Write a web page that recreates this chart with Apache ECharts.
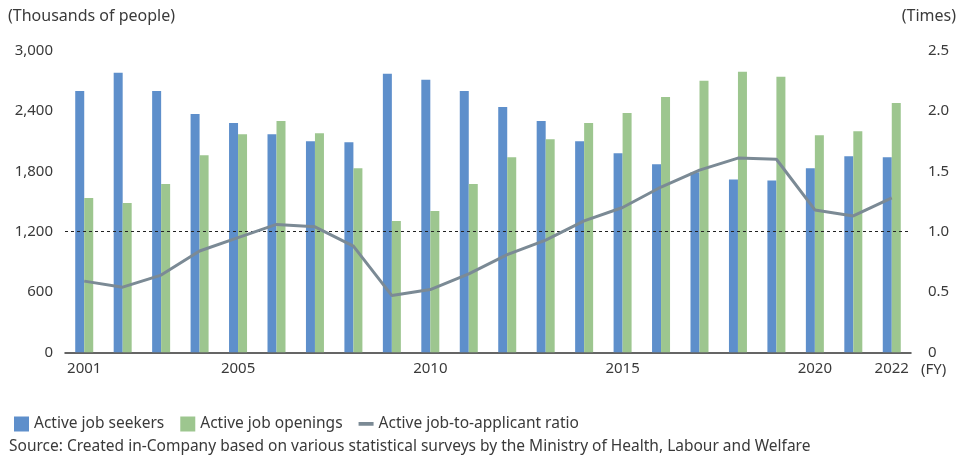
<!DOCTYPE html>
<html><head><meta charset="utf-8">
<script src="https://cdn.jsdelivr.net/npm/echarts@6/dist/echarts.min.js"></script>
<style>html,body{margin:0;padding:0;background:#fff}#c{width:959px;height:455px}</style>
</head><body><div id="c"></div>
<script>
const years = ['2001','2002','2003','2004','2005','2006','2007','2008','2009','2010','2011','2012','2013','2014','2015','2016','2017','2018','2019','2020','2021','2022'];
const shownYears = ['2001','2005','2010','2015','2020','2022'];
const jobSeekers = [2600,2780,2600,2370,2280,2170,2100,2090,2770,2710,2600,2440,2300,2100,1980,1870,1790,1720,1710,1830,1950,1940];
const jobOpenings = [1535,1485,1675,1960,2170,2300,2180,1830,1305,1405,1675,1940,2120,2280,2380,2540,2700,2790,2740,2160,2200,2480];
const ratio = [0.59,0.54,0.64,0.84,0.95,1.06,1.04,0.88,0.47,0.52,0.65,0.81,0.93,1.09,1.20,1.37,1.51,1.61,1.60,1.18,1.13,1.28];
const leftTicks = {min:0, max:3000, interval:600};
const rightTicks = {min:0, max:2.5, interval:0.5};

const txt = '#3a3a3a';
const font = 'Noto Sans';
const chart = echarts.init(document.getElementById('c'));
chart.setOption({
  animation:false,
  textStyle:{fontFamily:font,color:txt},
  grid:{left:65,right:48,top:50.7,bottom:102.7,containLabel:false},
  legend:{
    left:9, top:411, itemWidth:15, itemHeight:15, itemGap:16,
    textStyle:{fontFamily:font,fontSize:15.5,color:txt},
    data:[
      {name:'Active job seekers',icon:'rect'},
      {name:'Active job openings',icon:'rect'},
      {name:'Active job-to-applicant ratio',icon:'path://M0,0h0.01v0.01h-0.01z M0,5.5h16v4h-16z M0,15h0.01v0.01h-0.01z'}
    ]
  },
  xAxis:{
    type:'category', data:years,
    axisTick:{show:false},
    axisLine:{lineStyle:{color:'#333',width:1.5}},
    axisLabel:{
      interval:(i,v)=>shownYears.indexOf(v)>=0,
      fontSize:15,color:txt,margin:9,fontFamily:font
    }
  },
  yAxis:[
    {type:'value',min:leftTicks.min,max:leftTicks.max,interval:leftTicks.interval,
     splitLine:{show:false},axisLine:{show:false},axisTick:{show:false},
     axisLabel:{fontSize:15,color:txt,margin:12,fontFamily:font,
       formatter:v=>v.toLocaleString('en-US')}},
    {type:'value',min:rightTicks.min,max:rightTicks.max,interval:rightTicks.interval,
     splitLine:{show:false},axisLine:{show:false},axisTick:{show:false},
     axisLabel:{fontSize:15,color:txt,margin:17,fontFamily:font,
       formatter:v=>v===0?'0':v.toFixed(1)}}
  ],
  series:[
    {name:'Active job seekers',type:'bar',data:jobSeekers,barWidth:9,barGap:'0%',
     itemStyle:{color:'#5E8FCB'},
     markLine:{silent:true,symbol:'none',label:{show:false},
       lineStyle:{color:'#222',type:[3,3],width:1},
       data:[{yAxis:1200}]}},
    {name:'Active job openings',type:'bar',data:jobOpenings,barWidth:9,
     itemStyle:{color:'#9DC68F'}},
    {name:'Active job-to-applicant ratio',type:'line',yAxisIndex:1,data:ratio,
     symbol:'none',lineStyle:{color:'#7B8A95',width:3},itemStyle:{color:'#7B8A95'},z:5}
  ],
  graphic:[
    {type:'text',left:8,top:8,style:{text:'(Thousands of people)',font:'16px "Noto Sans"',fill:txt}},
    {type:'text',right:3,top:8,style:{text:'(Times)',font:'16px "Noto Sans"',fill:txt}},
    {type:'text',left:921,top:362,style:{text:'(FY)',font:'15px "Noto Sans"',fill:txt}},
    {type:'text',left:9,top:439,style:{text:'Source: Created in-Company based on various statistical surveys by the Ministry of Health, Labour and Welfare',font:'15.5px "Noto Sans"',fill:txt}}
  ]
});
</script></body></html>
